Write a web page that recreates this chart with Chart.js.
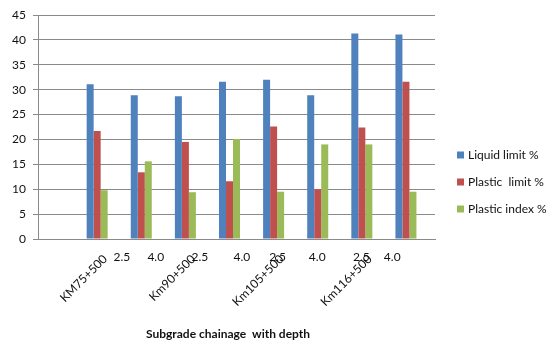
<!DOCTYPE html>
<html>
<head>
<meta charset="utf-8">
<script src="https://cdn.jsdelivr.net/npm/chart.js@4/dist/chart.umd.min.js"></script>
<style>
  html, body { margin: 0; padding: 0; background: #fff; }
  #wrap { width: 547px; height: 342px; position: relative; }
</style>
</head>
<body>
<div id="wrap"><canvas id="c"></canvas></div>
<script>
// Subgrade chainages and sampling depths (m)
const chainages = ['KM75+500', 'Km90+500', 'Km105+500', 'Km116+500'];
const depths = ['2.5', '4.0', '2.5', '4.0', '2.5', '4.0', '2.5', '4.0'];

// Atterberg limits (%) per sample; the first slot is left empty
const liquidLimit  = [null, 31.1, 28.9, 28.7, 31.6, 32.0, 28.9, 41.3, 41.1];
const plasticLimit = [null, 21.7, 13.4, 19.5, 11.6, 22.6, 10.0, 22.4, 31.6];
const plasticIndex = [null,  9.8, 15.6,  9.4, 20.1,  9.5, 19.0, 19.0,  9.5];

const seriesNames = ['Liquid limit %', 'Plastic  limit %', 'Plastic index %'];
const seriesColors = ['#4F81BD', '#C0504D', '#9BBB59'];

// Category slots: one blank slot followed by chainage/depth samples
const categories = [''];
chainages.forEach((c, i) => {
  categories.push(c + ' ' + depths[2 * i], c + ' ' + depths[2 * i + 1]);
});

// Where the axis labels sit along the category scale (slot units)
const depthLabelAt = [1.4, 2.17, 3.17, 4.12, 4.93, 5.83, 6.83, 7.53];
const chainLabelAt = [1, 3, 5, 7];

const FONT = 'Lato, "Liberation Sans", sans-serif';
const GRID = '#8a8a8a';
const TEXT = '#111';

const emptySlot = categories.map(() => null);

const axisLabels = {
  id: 'axisLabels',
  afterDraw(chart) {
    const ctx = chart.ctx;
    const xs = chart.scales.x;
    const area = chart.chartArea;
    ctx.save();
    ctx.fillStyle = TEXT;
    // depth labels
    ctx.font = '12px ' + FONT;
    ctx.textAlign = 'center';
    ctx.textBaseline = 'middle';
    depths.forEach((d, i) => {
      ctx.fillText(d, xs.getPixelForValue(depthLabelAt[i]), area.bottom + 18);
    });
    // chainage labels, rotated
    chainages.forEach((c, i) => {
      const px = xs.getPixelForValue(chainLabelAt[i]);
      ctx.save();
      ctx.translate(px + 1, area.bottom + 18);
      ctx.rotate(-Math.PI / 4);
      ctx.textAlign = 'right';
      ctx.textBaseline = 'middle';
      ctx.fillText(c, 0, 0);
      ctx.restore();
    });
    // axis title
    ctx.font = 'bold 12px ' + FONT;
    ctx.textAlign = 'center';
    ctx.textBaseline = 'middle';
    ctx.fillText('Subgrade chainage  with depth', 228, 334);
    // legend
    ctx.font = '12px ' + FONT;
    ctx.textAlign = 'left';
    seriesNames.forEach((name, i) => {
      const cy = 155 + i * 27;
      ctx.fillStyle = seriesColors[i];
      ctx.fillRect(457, cy - 3.5, 7, 7);
      ctx.fillStyle = TEXT;
      ctx.fillText(name, 468, cy);
    });
    ctx.restore();
  }
};

new Chart(document.getElementById('c'), {
  type: 'bar',
  data: {
    labels: categories,
    datasets: [
      { label: seriesNames[0], data: liquidLimit,  backgroundColor: seriesColors[0] },
      { label: seriesNames[1], data: plasticLimit, backgroundColor: seriesColors[1] },
      { label: seriesNames[2], data: plasticIndex, backgroundColor: seriesColors[2] },
      { label: '', data: emptySlot, backgroundColor: 'rgba(0,0,0,0)' },
      { label: '', data: emptySlot, backgroundColor: 'rgba(0,0,0,0)' }
    ]
  },
  options: {
    responsive: true,
    maintainAspectRatio: false,
    animation: false,
    layout: { padding: { top: 15, right: 112, left: 0, bottom: 0 } },
    datasets: { bar: { categoryPercentage: 0.794, barPercentage: 1.0 } },
    plugins: {
      legend: { display: false },
      tooltip: { enabled: false }
    },
    scales: {
      x: {
        ticks: { display: false },
        grid: { display: false },
        border: { display: true, color: GRID, width: 1 },
        afterFit(s) { s.height = 103; }
      },
      y: {
        min: 0,
        max: 45,
        ticks: { stepSize: 5, padding: 7, color: TEXT, font: { family: FONT, size: 12 } },
        grid: { color: GRID, lineWidth: 1, tickLength: 5, drawTicks: true },
        border: { display: true, color: GRID, width: 1 },
        afterFit(s) { s.width = 38; }
      }
    }
  },
  plugins: [axisLabels]
});
</script>
</body>
</html>
